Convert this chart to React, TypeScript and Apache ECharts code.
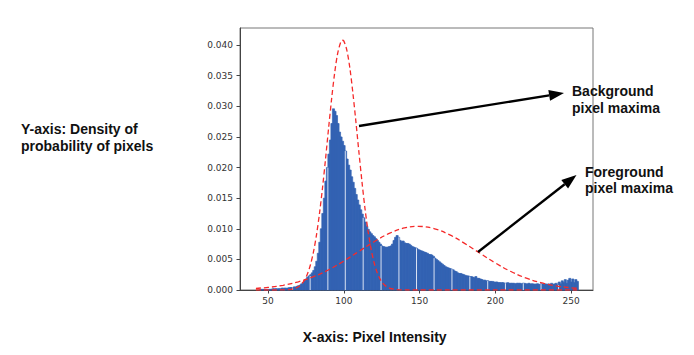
import React, { useEffect, useRef } from "react";
import * as echarts from "echarts";

// Histogram: density per pixel intensity, starting at intensity 45
const binStart = 45;
const density = [
  0.0001, 0.0001, 0.0001, 0.0001, 0.0001, 0.0001, 0.0001, 0.0001, 0.0002, 0.0002, 0.0002, 0.0002, 0.0002, 0.0002, 0.0003,
  0.0003, 0.0003, 0.0003, 0.0003, 0.0004, 0.0004, 0.0004, 0.0005, 0.0005, 0.0006,
  0.0007, 0.0008, 0.0010, 0.0012, 0.0015, 0.0018, 0.0021, 0.0023, 0.0025, 0.0028,
  0.0032, 0.0038, 0.0047, 0.0060, 0.0078, 0.0100, 0.0125, 0.0150, 0.0178, 0.0200,
  0.0222, 0.0245, 0.0272, 0.0296, 0.0292, 0.0285, 0.0272, 0.0258, 0.0250, 0.0243,
  0.0236, 0.0227, 0.0214, 0.0204, 0.0196, 0.0185, 0.0176, 0.0166, 0.0156, 0.0147,
  0.0139, 0.0131, 0.0124, 0.0118, 0.0111, 0.0104, 0.0099, 0.0095, 0.0092, 0.0089,
  0.0087, 0.0084, 0.0081, 0.0078, 0.0075, 0.0072, 0.0071, 0.0070, 0.0070, 0.0070,
  0.0071, 0.0072, 0.0075, 0.0081, 0.0086, 0.0089, 0.0086, 0.0081, 0.0079, 0.0080,
  0.0077, 0.0076, 0.0076, 0.0075, 0.0073, 0.0071, 0.0070, 0.0069, 0.0068, 0.0066,
  0.0065, 0.0064, 0.0063, 0.0062, 0.0061, 0.0060, 0.0058, 0.0058, 0.0057, 0.0055,
  0.0052, 0.0050, 0.0048, 0.0046, 0.0044, 0.0042, 0.0040, 0.0038, 0.0037, 0.0036,
  0.0035, 0.0034, 0.0033, 0.0031, 0.0030, 0.0028, 0.0027, 0.0027, 0.0026, 0.0025,
  0.0024, 0.0023, 0.0023, 0.0022, 0.0022, 0.0021, 0.0020, 0.0022, 0.0019, 0.0019,
  0.0018, 0.0017, 0.0016, 0.0016, 0.0015, 0.0015, 0.0014, 0.0014, 0.0014, 0.0013,
  0.0013, 0.0013, 0.0012, 0.0012, 0.0012, 0.0012, 0.0011, 0.0011, 0.0012, 0.0011,
  0.0011, 0.0011, 0.0011, 0.0010, 0.0011, 0.0011, 0.0011, 0.0010, 0.0011, 0.0011,
  0.0010, 0.0010, 0.0011, 0.0010, 0.0010, 0.0010, 0.0009, 0.0010, 0.0010, 0.0009,
  0.0010, 0.0010, 0.0009, 0.0010, 0.0009, 0.0010, 0.0009, 0.0011, 0.0009, 0.0010,
  0.0011, 0.0008, 0.0013, 0.0010, 0.0015, 0.0012, 0.0017, 0.0011, 0.0016, 0.0019,
  0.0013, 0.0018, 0.0012, 0.0017, 0.0014,
];

// Empty (white) bins inside the histogram
const emptyBins = [66.2, 77.8, 89.5, 101.0, 112.8, 124.6, 136.4, 148.0, 159.6, 171.4, 183.2, 195.0, 206.7, 218.5, 230.2, 241.8];

// Background fit (dashed red)
const bgX = [42, 50, 56, 60, 64, 68, 70, 72, 74, 76, 78, 80, 82, 84, 86, 88, 90, 92, 94, 96, 98, 99, 100, 102, 104, 106, 108, 110, 112, 114, 116, 118, 120, 122, 124, 126, 128, 130, 134, 138, 142, 150, 170, 200, 254];
const bgY = [0, 0, 0.000003, 0.000016, 0.000073, 0.000284, 0.000527, 0.000936, 0.0016, 0.00262, 0.00412, 0.00622, 0.00902, 0.01255, 0.01677, 0.0215, 0.0265, 0.0313, 0.0355, 0.0387, 0.0405, 0.0408, 0.0407, 0.0392, 0.0363, 0.0322, 0.0275, 0.0225, 0.0177, 0.0133, 0.00967, 0.00672, 0.00449, 0.00288, 0.00177, 0.00104, 0.00059, 0.00032, 0.000084, 0.000019, 0.000003, 0, 0, 0, 0];

// Foreground fit (dashed red)
const fgX = [42, 50, 60, 70, 80, 90, 100, 110, 120, 130, 140, 149, 160, 170, 180, 190, 200, 210, 220, 230, 240, 250, 254];
const fgY = [0.00028, 0.00042, 0.00077, 0.00134, 0.00217, 0.00331, 0.00472, 0.00631, 0.00789, 0.00924, 0.01013, 0.0104, 0.0100, 0.0090, 0.00758, 0.00599, 0.00442, 0.00306, 0.00198, 0.0012, 0.00068, 0.00036, 0.00028];

const xTicks = [50, 100, 150, 200, 250];
const yTicks = [0, 0.005, 0.01, 0.015, 0.02, 0.025, 0.03, 0.035, 0.04];

const BAR = "#3363b3";
const RED = "#f52a2a";

function arrow(sx: number, sy: number, tx: number, ty: number, len = 15, half = 5.5) {
  const dx = tx - sx, dy = ty - sy;
  const L = Math.sqrt(dx * dx + dy * dy);
  const ux = dx / L, uy = dy / L;
  const bx = tx - ux * len, by = ty - uy * len;
  const nx = -uy, ny = ux;
  return [
    { type: "line", shape: { x1: sx, y1: sy, x2: bx, y2: by }, style: { stroke: "#000", lineWidth: 2.3 }, z: 10 },
    {
      type: "polygon",
      shape: { points: [[tx, ty], [bx + nx * half, by + ny * half], [bx - nx * half, by - ny * half]] },
      style: { fill: "#000" },
      z: 10,
    },
  ];
}

function label(x: number, y: number, text: string) {
  return {
    type: "text",
    x,
    y,
    z: 11,
    style: {
      text,
      fill: "#111",
      font: "bold 14px 'Liberation Sans', Arial, sans-serif",
      textVerticalAlign: "middle",
      textAlign: "left",
    },
  };
}

export default function App() {
  const ref = useRef<HTMLDivElement>(null);
  useEffect(() => {
    if (!ref.current) return;
    const chart = echarts.init(ref.current, undefined, { renderer: "svg" });
    const hist = density.map((d, i) => [binStart + i, d]);
    const gaps = emptyBins.map((g) => {
      const idx = Math.round(g) - binStart;
      const a = density[Math.floor(g) - binStart] ?? 0;
      const b = density[idx] ?? 0;
      return [g, Math.min(a, b)];
    });
    const tickFont = { fontFamily: "DejaVu Sans", fontSize: 9, color: "#333" };
    chart.setOption({
      animation: false,
      grid: { left: 240, right: 101, top: 28, bottom: 65, show: true, borderColor: "#777", borderWidth: 1, backgroundColor: "transparent" },
      xAxis: {
        type: "value",
        min: 31.5,
        max: 264.5,
        splitLine: { show: false },
        axisLine: { show: true, onZero: false, lineStyle: { color: "#444", width: 1 } },
        axisTick: { show: true, length: 3.5, customValues: xTicks, lineStyle: { color: "#444" } },
        axisLabel: { ...tickFont, margin: 6, customValues: xTicks, formatter: (v: number) => String(v) },
      },
      yAxis: {
        type: "value",
        min: 0,
        max: 0.0428,
        splitLine: { show: false },
        axisLine: { show: true, lineStyle: { color: "#444", width: 1 } },
        axisTick: { show: true, length: 3.5, customValues: yTicks, lineStyle: { color: "#444" } },
        axisLabel: { ...tickFont, margin: 7, customValues: yTicks, formatter: (v: number) => v.toFixed(3) },
      },
      series: [
        {
          type: "custom",
          data: hist,
          z: 2,
          renderItem: (_p: any, api: any) => {
            const v = api.value(0), h = api.value(1);
            const p0 = api.coord([v - 0.5, h]);
            const p1 = api.coord([v + 0.5, 0]);
            return {
              type: "rect",
              shape: { x: p0[0], y: p0[1], width: p1[0] - p0[0] + 0.6, height: p1[1] - p0[1] },
              style: { fill: BAR, stroke: BAR, lineWidth: 0.7 },
            };
          },
        },
        {
          type: "custom",
          data: gaps,
          z: 3,
          renderItem: (_p: any, api: any) => {
            const v = api.value(0), h = api.value(1);
            const p0 = api.coord([v, h]);
            const p1 = api.coord([v, 0]);
            return {
              type: "line",
              shape: { x1: p0[0], y1: p0[1], x2: p1[0], y2: p1[1] },
              style: { stroke: "rgba(235,240,250,0.9)", lineWidth: 1 },
            };
          },
        },
        {
          type: "line",
          data: bgX.map((x, i) => [x, bgY[i]]),
          smooth: 0.3,
          symbol: "none",
          z: 5,
          lineStyle: { color: RED, width: 1.3, type: [5, 3] },
        },
        {
          type: "line",
          data: fgX.map((x, i) => [x, fgY[i]]),
          smooth: 0.4,
          symbol: "none",
          z: 5,
          lineStyle: { color: RED, width: 1.3, type: [5, 3] },
        },
      ],
      graphic: [
        ...arrow(359, 126, 564, 93),
        ...arrow(478, 252, 576.5, 175),
        label(572, 91, "Background"),
        label(572, 107.7, "pixel maxima"),
        label(585, 172.3, "Foreground"),
        label(585, 188.3, "pixel maxima"),
        label(21, 129, "Y-axis: Density of"),
        label(21, 145.7, "probability of pixels"),
        label(302.7, 337.3, "X-axis: Pixel Intensity"),
      ],
    });
    return () => chart.dispose();
  }, []);
  return <div ref={ref} style={{ position: "fixed", left: 0, top: 0, width: 694, height: 355, background: "#fff" }} />;
}
